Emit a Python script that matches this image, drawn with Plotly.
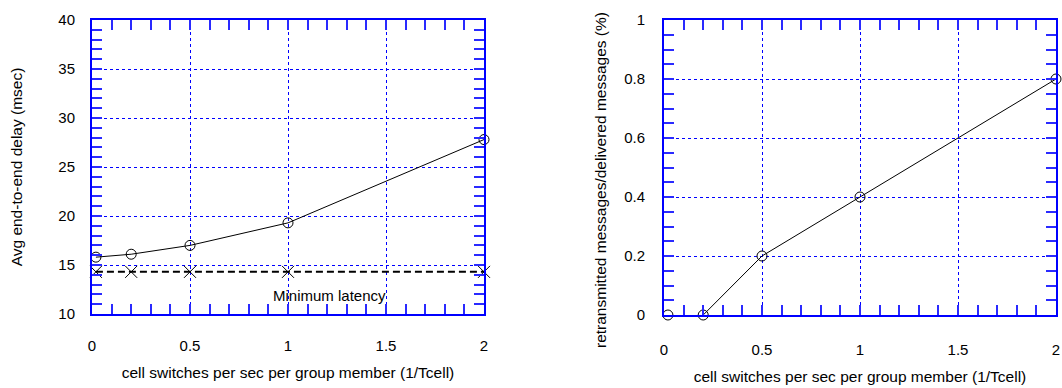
import plotly.graph_objects as go

# ---- data ----
x_switch = [0.02, 0.2, 0.5, 1, 2]
avg_delay = [15.8, 16.1, 17.0, 19.3, 27.8]
min_latency = [14.3, 14.3, 14.3, 14.3, 14.3]
retrans_ratio = [0, 0, 0.2, 0.4, 0.8]

x_title = "cell switches per sec per group member (1/Tcell)"
y1_title = "Avg end-to-end delay (msec)"
y2_title = "retransmitted messages/delivered messages (%)"
note_text = "Minimum latency"

BLUE = "#0000ff"
TICKBLUE = "#2a2aff"
TICKLEN = 10
TICKW = 1.5
FONT = "Liberation Sans, Arial, sans-serif"
TICK_SIZE = 15
TITLE_SIZE = 15.5
W, H = 1062, 388

L_X = [92 / W, 484 / W]
L_Y = [1 - 314 / H, 1 - 20 / H]
R_X = [664 / W, 1056 / W]
R_Y = [1 - 315 / H, 1 - 20 / H]

fig = go.Figure()

fig.add_trace(go.Scatter(x=x_switch, y=avg_delay, mode="none", hoverinfo="skip",
                         xaxis="x5", yaxis="y5", showlegend=False))
fig.add_trace(go.Scatter(
    x=x_switch, y=avg_delay, mode="lines+markers",
    line=dict(color="black", width=1),
    marker=dict(symbol="circle-open", size=10, color="black", line=dict(width=1)),
    xaxis="x", yaxis="y", showlegend=False, cliponaxis=False))
fig.add_trace(go.Scatter(
    x=x_switch, y=min_latency, mode="lines+markers",
    line=dict(color="black", width=2, dash="7px,4px"),
    marker=dict(symbol="x-thin-open", size=12, color="black", line=dict(width=1, color="black")),
    xaxis="x3", yaxis="y3", showlegend=False, cliponaxis=False))

fig.add_trace(go.Scatter(x=x_switch, y=retrans_ratio, mode="none", hoverinfo="skip",
                         xaxis="x6", yaxis="y6", showlegend=False))
fig.add_trace(go.Scatter(
    x=x_switch[1:], y=retrans_ratio[1:], mode="lines",
    line=dict(color="black", width=1),
    xaxis="x2", yaxis="y2", showlegend=False, cliponaxis=True))
fig.add_trace(go.Scatter(
    x=x_switch, y=retrans_ratio, mode="markers",
    marker=dict(symbol="circle-open", size=10, color="black", line=dict(width=1)),
    xaxis="x4", yaxis="y4", showlegend=False, cliponaxis=False))


def minor(dt):
    return dict(ticks="inside", ticklen=TICKLEN, tickwidth=TICKW, tickcolor=TICKBLUE,
                dtick=dt, showgrid=False)


def main_ax(**kw):
    d = dict(
        showline=True, linecolor=BLUE, linewidth=2,
        ticks="inside", ticklen=TICKLEN, tickwidth=TICKW, tickcolor=TICKBLUE,
        showgrid=False, zeroline=False,
        tickfont=dict(family=FONT, size=TICK_SIZE, color="black"),
        title_font=dict(family=FONT, size=TITLE_SIZE, color="black"),
        automargin=False, ticklabeloverflow="allow",
    )
    d.update(kw)
    return d


def mirror_ax(**kw):
    d = dict(
        showline=True, linecolor=BLUE, linewidth=2,
        ticks="inside", ticklen=TICKLEN, tickwidth=TICKW, tickcolor=TICKBLUE,
        showgrid=False, zeroline=False, showticklabels=False, automargin=False,
    )
    d.update(kw)
    return d


def grid_ax(**kw):
    d = dict(
        showline=False, ticks="", showticklabels=False, zeroline=False,
        showgrid=True, gridcolor=BLUE, gridwidth=1, griddash="3px,3px",
        automargin=False,
    )
    d.update(kw)
    return d


fig.update_layout(
    width=W, height=H,
    margin=dict(l=0, r=0, t=0, b=0),
    paper_bgcolor="white", plot_bgcolor="white",
    font=dict(family=FONT, size=TICK_SIZE, color="black"),
    xaxis=main_ax(domain=L_X, anchor="y", range=[0, 2], tick0=0, dtick=0.5,
                  minor=minor(0.1), ticklabelstandoff=17,
                  title=dict(text=x_title, standoff=14)),
    yaxis=main_ax(domain=L_Y, anchor="x", range=[10, 40], tick0=10, dtick=5,
                  minor=minor(1), ticklabelstandoff=12,
                  title=dict(text=y1_title, standoff=32)),
    xaxis3=mirror_ax(overlaying="x", anchor="y", side="top", range=[0, 2],
                     tick0=0, dtick=0.5, minor=minor(0.1)),
    yaxis3=mirror_ax(overlaying="y", anchor="x", side="right", range=[10, 40],
                     tick0=10, dtick=5, minor=minor(1)),
    xaxis5=grid_ax(overlaying="x", anchor="y", range=[0, 2], tick0=0, dtick=0.5),
    yaxis5=grid_ax(overlaying="y", anchor="x", range=[10, 40], tick0=10, dtick=5),
    xaxis2=main_ax(domain=R_X, anchor="y2", range=[0, 2], tick0=0, dtick=0.5,
                   minor=minor(0.1), ticklabelstandoff=20,
                   title=dict(text=x_title, standoff=14)),
    yaxis2=main_ax(domain=R_Y, anchor="x2", range=[0, 1], tick0=0, dtick=0.2,
                   minor=minor(0.05), ticklabelstandoff=14),
    xaxis4=mirror_ax(overlaying="x2", anchor="y2", side="top", range=[0, 2],
                     tick0=0, dtick=0.5, minor=minor(0.1)),
    yaxis4=mirror_ax(overlaying="y2", anchor="x2", side="right", range=[0, 1],
                     tick0=0, dtick=0.2, minor=minor(0.05)),
    xaxis6=grid_ax(overlaying="x2", anchor="y2", range=[0, 2], tick0=0, dtick=0.5),
    yaxis6=grid_ax(overlaying="y2", anchor="x2", range=[0, 1], tick0=0, dtick=0.2),
    annotations=[
        dict(x=1.21, y=11.85, xref="x", yref="y", text=note_text,
             showarrow=False, font=dict(family=FONT, size=TICK_SIZE, color="black")),
        dict(x=600 / W, y=1 - 180 / H, xref="paper", yref="paper", text=y2_title,
             textangle=-90, showarrow=False, xanchor="center", yanchor="middle",
             font=dict(family=FONT, size=TITLE_SIZE, color="black")),
    ],
)

fig.write_html("out.html")
